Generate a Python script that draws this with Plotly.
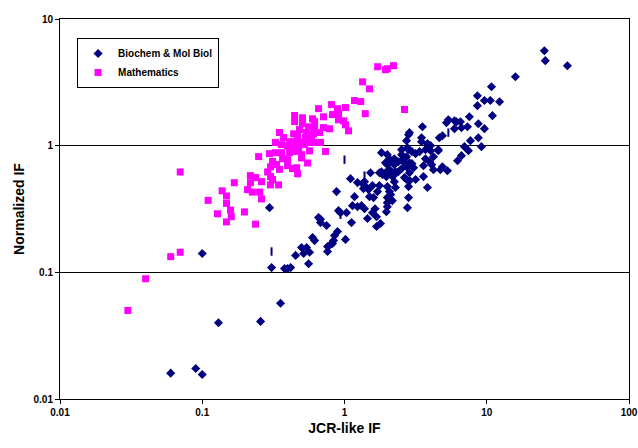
import plotly.graph_objects as go

# Biochem & Mol Biol (JCR-like IF, Normalized IF)
bio_x = [0.060, 0.090, 0.100, 0.130, 0.257, 0.355, 0.100, 0.307, 0.379, 0.398, 0.418, 0.453, 0.499, 0.516,
         0.541, 0.568, 0.559, 0.596, 0.616, 0.760, 0.760, 0.297, 0.657, 0.678, 0.678, 0.748, 0.837, 0.824,
         0.851, 0.893, 1.016, 0.798, 0.879, 0.907, 0.937, 1.033, 1.12, 1.138, 1.176, 1.234, 1.317, 1.382,
         1.451, 1.573, 1.64, 1.68, 1.68, 1.79, 1.97, 2.0, 2.17, 2.0, 2.11, 2.82, 2.77, 3.83, 2.28, 2.0,
         2.07, 1.102, 1.234, 1.337, 1.382, 1.405, 1.36, 1.475, 1.573, 1.60, 1.706, 1.498, 1.76, 1.523,
         1.82, 1.76, 1.85, 1.94, 1.97, 2.0, 2.21, 2.0, 2.07, 2.14, 2.24, 2.28, 2.24, 1.82, 2.0, 2.07,
         2.11, 1.94, 2.14, 2.24, 2.39, 2.24, 2.14, 2.64, 2.73, 2.87, 2.82, 3.16, 3.59, 2.86, 3.59, 3.71,
         3.96, 4.22, 4.22, 4.72, 4.88, 5.29, 3.53, 3.48, 3.48, 3.83, 4.03, 4.03, 4.56, 3.71, 2.73, 2.82,
         2.86, 2.77, 2.52, 2.82, 2.98, 3.16, 3.37, 2.52, 2.73, 2.98, 2.77, 2.52, 2.64, 2.39, 2.55, 2.24,
         3.06, 2.86, 4.10, 4.64, 4.88, 5.21, 5.37, 5.93, 6.13, 6.53, 5.93, 6.64, 7.32, 8.73, 9.63, 8.73,
         7.68, 9.17, 6.97, 7.43, 6.64, 6.23, 4.56, 8.60, 9.63, 10.6, 12.3, 8.60, 10.96, 7.55, 10.8, 15.9,
         25.4, 25.8, 36.9]
bio_y = [0.016, 0.0174, 0.0156, 0.040, 0.041, 0.057, 0.141, 0.109, 0.107, 0.107, 0.109, 0.136, 0.157, 0.141,
         0.157, 0.144, 0.117, 0.188, 0.178, 0.160, 0.146, 0.324, 0.271, 0.262, 0.247, 0.234, 0.178, 0.169,
         0.195, 0.210, 0.182, 0.166, 0.434, 0.307, 0.296, 0.296, 0.247, 0.336, 0.396, 0.330, 0.336, 0.318,
         0.266, 0.296, 0.318, 0.275, 0.230, 0.243, 0.301, 0.330, 0.368, 0.389, 0.411, 0.389, 0.324, 0.467,
         0.467, 0.475, 0.434, 0.549, 0.511, 0.502, 0.520, 0.475, 0.458, 0.450, 0.484, 0.389, 0.434, 0.396,
         0.484, 0.612, 0.623, 0.612, 0.591, 0.612, 0.570, 0.355, 0.580, 0.708, 0.646, 0.623, 0.733, 0.623,
         0.520, 0.881, 0.849, 0.789, 0.761, 0.733, 0.747, 0.708, 0.623, 0.612, 0.580, 0.560, 0.540, 0.530,
         0.475, 0.540, 0.570, 0.612, 0.695, 0.789, 0.747, 0.818, 0.646, 0.646, 0.682, 0.634, 1.412, 1.156,
         1.075, 1.037, 1.0, 0.913, 0.930, 0.930, 1.095, 1.221, 1.267, 0.964, 0.930, 0.930, 0.897, 0.865,
         0.897, 0.849, 0.818, 0.721, 0.670, 0.658, 0.733, 0.747, 0.775, 0.789, 0.670, 0.733, 0.708, 1.156,
         1.199, 1.518, 1.60, 1.575, 1.546, 1.546, 1.362, 1.386, 1.412, 1.49, 1.362, 1.156, 1.095, 0.982,
         0.982, 0.913, 0.834, 0.761, 0.913, 2.48, 2.27, 2.27, 2.22, 2.07, 1.726, 1.693, 2.92, 3.50, 5.62,
         4.69, 4.28]

# small vertical dash marks in the Biochem cloud
dash_x = [0.307, 1.0, 1.382, 5.37, 0.937, 1.97]
dash_y = [0.146, 0.775, 0.580, 1.267, 0.285, 0.612]

# Mathematics
math_x = [0.030, 0.040, 0.060, 0.070, 0.070, 0.11, 0.128, 0.138, 0.148, 0.148, 0.148, 0.158, 0.160, 0.168,
          0.198, 0.208, 0.218, 0.218, 0.225, 0.237, 0.237, 0.253, 0.249, 0.261, 0.261, 0.288, 0.297, 0.302,
          0.302, 0.302, 0.312, 0.312, 0.327, 0.327, 0.333, 0.344, 0.349, 0.349, 0.361, 0.361, 0.367, 0.373,
          0.398, 0.398, 0.398, 0.411, 0.411, 0.431, 0.431, 0.439, 0.446, 0.446, 0.446, 0.446, 0.461, 0.468,
          0.468, 0.476, 0.483, 0.491, 0.499, 0.499, 0.507, 0.507, 0.524, 0.532, 0.541, 0.550, 0.550, 0.559,
          0.568, 0.587, 0.596, 0.606, 0.616, 0.616, 0.616, 0.657, 0.668, 0.678, 0.712, 0.712, 0.736, 0.785,
          0.811, 0.824, 0.893, 0.907, 0.907, 0.984, 1.016, 1.016, 1.067, 1.176, 1.30, 1.34, 1.40, 1.50,
          1.71, 1.94, 2.0, 2.21, 2.64]
math_y = [0.050, 0.089, 0.133, 0.144, 0.62, 0.37, 0.29, 0.44, 0.40, 0.35, 0.25, 0.31, 0.275, 0.51,
          0.30, 0.45, 0.58, 0.51, 0.43, 0.56, 0.24, 0.43, 0.82, 0.52, 0.38, 0.62, 0.865, 0.68,
          0.57, 0.49, 0.75, 0.54, 1.06, 0.88, 0.71, 0.49, 1.27, 0.65, 1.02, 0.88, 0.79, 1.16,
          1.0, 0.775, 0.695, 1.075, 0.88, 0.96, 0.66, 1.24, 1.73, 1.55, 1.075, 0.90, 0.67, 1.18,
          0.60, 0.95, 1.34, 1.06, 0.85, 0.80, 1.66, 1.49, 1.02, 1.16, 1.27, 1.06, 0.73, 1.41,
          0.91, 1.20, 1.63, 1.24, 1.55, 1.39, 1.06, 1.96, 1.27, 1.06, 1.69, 1.39, 0.90, 1.36,
          2.11, 1.76, 1.96, 1.79, 1.60, 1.57, 2.0, 1.46, 1.31, 2.27, 2.23, 3.19, 1.79, 2.81,
          4.20, 3.98, 4.05, 4.28, 1.93]

tick_vals = [0.01, 0.1, 1, 10, 100]
tick_text = ["0.01", "0.1", "1", "10", "100"]

FONT = "Arial, Liberation Sans, sans-serif"

fig = go.Figure()
fig.add_trace(go.Scatter(
    x=bio_x, y=bio_y, mode="markers", name="Biochem & Mol Biol",
    marker=dict(symbol="diamond", size=7, color="#000080", line=dict(width=0)),
))
fig.add_trace(go.Scatter(
    x=math_x, y=math_y, mode="markers", name="Mathematics",
    marker=dict(symbol="square", size=7, color="#FF00FF", line=dict(width=0)),
))
fig.add_trace(go.Scatter(
    x=dash_x, y=dash_y, mode="markers", showlegend=False,
    marker=dict(symbol="line-ns", size=6, color="#000080", line=dict(width=2, color="#000080")),
))

axis_common = dict(
    type="log", showline=True, linecolor="black", linewidth=1, mirror=True,
    ticks="outside", ticklen=4, tickcolor="black", automargin=False,
    tickfont=dict(family=FONT, size=10, color="black", weight="bold"),
    zeroline=False, ticklabeloverflow="allow",
)

fig.update_layout(
    width=638, height=448,
    margin=dict(l=60, r=9, t=19, b=49),
    paper_bgcolor="white", plot_bgcolor="white",
    font=dict(family=FONT, color="black"),
    xaxis=dict(**axis_common, range=[-2, 2], tickvals=tick_vals, ticktext=tick_text, showgrid=False,
               title=dict(text="JCR-like IF", font=dict(family=FONT, size=14, weight="bold"), standoff=6)),
    yaxis=dict(**axis_common, range=[-2, 1], tickvals=tick_vals[:4], ticktext=tick_text[:4],
               showgrid=True, gridcolor="black", gridwidth=1,
               title=dict(text="Normalized IF", font=dict(family=FONT, size=14, weight="bold"), standoff=5)),
    legend=dict(x=0.03, y=0.95, xanchor="left", yanchor="top", bgcolor="white",
                bordercolor="black", borderwidth=1, itemwidth=30,
                font=dict(family=FONT, size=10, color="black", weight="bold"),
                tracegroupgap=0),
    showlegend=True,
)

# remove the browser's default page margin so the 638x448 figure fills the window exactly
fig.write_html("out.html", config={"displayModeBar": False},
               post_script="document.body.style.margin='0px';document.body.style.overflow='hidden';")
